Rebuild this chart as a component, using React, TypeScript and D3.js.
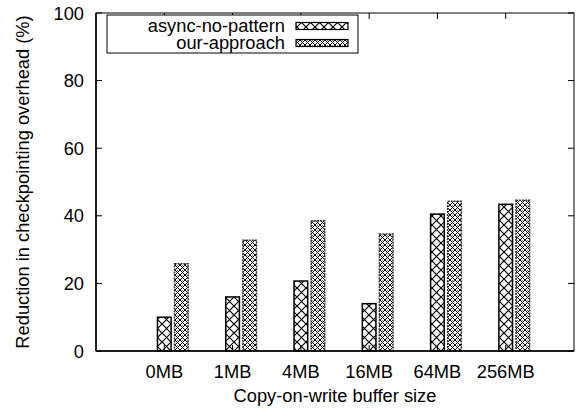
import React from "react";
import * as d3 from "d3";

const categories = ["0MB", "1MB", "4MB", "16MB", "64MB", "256MB"];
const asyncNoPattern = [10.0, 16.0, 20.7, 14.0, 40.5, 43.4];
const ourApproach = [25.8, 32.8, 38.5, 34.6, 44.3, 44.6];
const yTicks = [0, 20, 40, 60, 80, 100];
const seriesNames = ["async-no-pattern", "our-approach"];

const W = 584;
const H = 414;
const M = { left: 96, right: 574, top: 13, bottom: 351 };
const FONT = "'Liberation Sans', Arial, Helvetica, sans-serif";
const FS = 18.3;

export default function App() {
  const x = d3.scaleLinear().domain([-1, categories.length]).range([M.left, M.right]);
  const y = d3.scaleLinear().domain([0, 100]).range([M.bottom, M.top]);
  const bw = 0.2;
  const offsets = [0, 0.25];
  const series = [asyncNoPattern, ourApproach];
  const fills = ["url(#patA)", "url(#patB)"];
  const tickLen = 6;

  return (
    <svg width={W} height={H} style={{ position: "absolute", left: 0, top: 0, background: "#fff" }}>
      <defs>
        <pattern id="patA" patternUnits="userSpaceOnUse" width={9} height={9}>
          <rect width={9} height={9} fill="#fff" />
          <path d="M0,0 L9,9 M9,0 L0,9" stroke="#000" strokeWidth={1.2} />
        </pattern>
        <pattern id="patB" patternUnits="userSpaceOnUse" width={5} height={5}>
          <rect width={5} height={5} fill="#fff" />
          <path d="M0,0 L5,5 M5,0 L0,5" stroke="#000" strokeWidth={1} />
          <circle cx={2.5} cy={0} r={0.6} fill="#000" />
        </pattern>
      </defs>

      {/* bars */}
      {series.map((vals, si) =>
        vals.map((v, i) => {
          const cx = i + offsets[si];
          const x0 = x(cx - bw / 2);
          const x1 = x(cx + bw / 2);
          return (
            <rect
              key={`${si}-${i}`}
              x={x0}
              y={y(v)}
              width={x1 - x0}
              height={y(0) - y(v)}
              fill={fills[si]}
              stroke={si === 0 ? "#000" : "#333"}
              strokeWidth={1.5}
              strokeDasharray={si === 0 ? undefined : "2,1"}
            />
          );
        })
      )}

      {/* border */}
      <rect x={M.left} y={M.top} width={M.right - M.left} height={M.bottom - M.top} fill="none" stroke="#000" strokeWidth={1} />
      <line x1={M.left} x2={M.right} y1={M.bottom} y2={M.bottom} stroke="#000" strokeWidth={1.5} />
      <line x1={M.left} x2={M.left} y1={M.top} y2={M.bottom} stroke="#000" strokeWidth={1.5} />

      {/* y ticks */}
      {yTicks.map((t) => (
        <g key={t}>
          <line x1={M.left} x2={M.left + tickLen} y1={y(t)} y2={y(t)} stroke="#000" />
          <line x1={M.right} x2={M.right - tickLen} y1={y(t)} y2={y(t)} stroke="#000" />
          <text x={M.left - 12} y={y(t)} dy="0.36em" textAnchor="end" fontFamily={FONT} fontSize={FS}>
            {t}
          </text>
        </g>
      ))}

      {/* x ticks */}
      {categories.map((c, i) => (
        <g key={c}>
          <line x1={x(i)} x2={x(i)} y1={M.top} y2={M.top + tickLen} stroke="#000" />
          <line x1={x(i)} x2={x(i)} y1={M.bottom} y2={M.bottom - tickLen} stroke="#000" />
          <text x={x(i)} y={378} textAnchor="middle" fontFamily={FONT} fontSize={FS}>
            {c}
          </text>
        </g>
      ))}

      {/* axis titles */}
      <text x={(M.left + M.right) / 2} y={402} textAnchor="middle" fontFamily={FONT} fontSize={FS}>
        Copy-on-write buffer size
      </text>
      <text
        transform={`translate(29, ${(M.top + M.bottom) / 2}) rotate(-90)`}
        textAnchor="middle"
        fontFamily={FONT}
        fontSize={FS}
      >
        Reduction in checkpointing overhead (%)
      </text>

      {/* legend */}
      <rect x={107} y={15} width={251} height={38} fill="#fff" stroke="#000" strokeWidth={1} />
      {seriesNames.map((n, i) => (
        <g key={n}>
          <text x={285} y={31.5 + i * 17} textAnchor="end" fontFamily={FONT} fontSize={FS}>
            {n}
          </text>
          <rect x={296} y={22.5 + i * 17} width={52} height={7} fill={fills[i]} stroke="#000" strokeWidth={1.2} />
        </g>
      ))}
    </svg>
  );
}
